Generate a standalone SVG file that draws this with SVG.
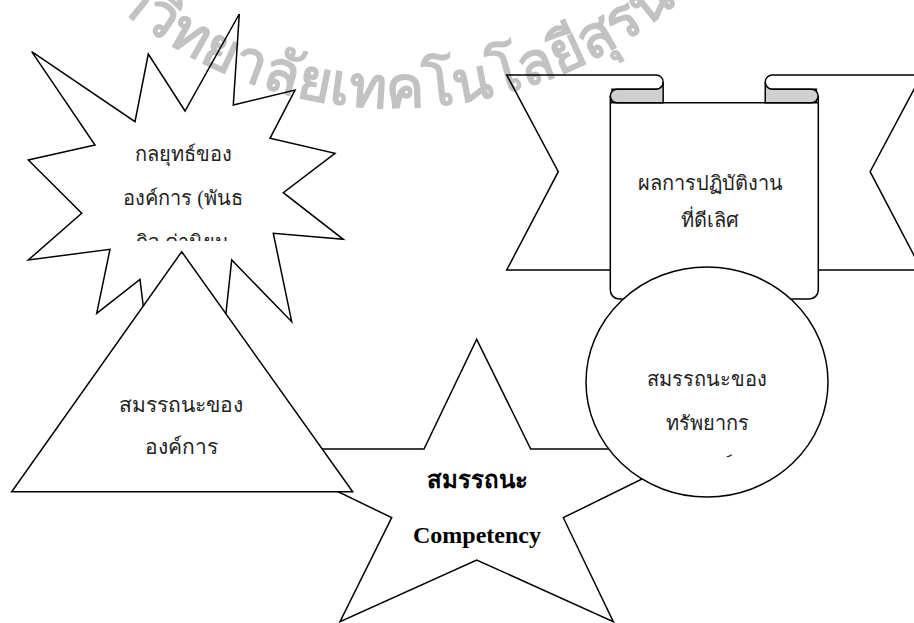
<svg xmlns="http://www.w3.org/2000/svg" width="914" height="623" viewBox="0 0 914 623">
<style>
.sh{fill:#fff;stroke:#000;stroke-width:1.5;stroke-linejoin:miter}
.fold{fill:#d0d0d0;stroke:#000;stroke-width:1.5}
.t{font-family:"Liberation Serif","Noto Sans",serif;font-size:20px;fill:#222;text-anchor:middle}
.tb{font-family:"Liberation Serif","Noto Sans",serif;font-size:24px;font-weight:bold;fill:#000;text-anchor:middle}
.wm{font-family:"Noto Sans","DejaVu Sans",sans-serif;font-size:58px;font-weight:bold;fill:#000;fill-opacity:0.24}
</style>
<defs>
<path id="wmarc" d="M -35,-322 A 430 430 0 0 0 825,-322"/>
<clipPath id="clipBurst"><rect x="100" y="130" width="170" height="111"/></clipPath>
<clipPath id="clipCircle"><rect x="620" y="340" width="180" height="117"/></clipPath>
</defs>
<g id="strategy">
<polygon class="sh" points="31.7,51.7 135,121.7 148.3,54 185,111 239.3,14 233.3,105 295,90 270,138.3 335,153.3 283.3,192.7 343.3,239.3 273.3,233.3 291.7,321.7 231.7,260 222,350 185,300 148,345 140,279.3 96.7,313.3 110,249.3 28.3,260 81.7,213.3 28.3,160 95,145"/>
<g clip-path="url(#clipBurst)">
<text class="t" x="183" y="161">กลยุทธ์ของ</text>
<text class="t" x="183" y="205">องค์การ (พันธ</text>
<text class="t" x="182" y="249">กิจ ค่านิยม</text>
</g>
</g>
<g id="competency">
<polygon class="sh" points="476.7,339.3 530.7,449 703,449 563.3,517.7 613.3,621.7 476.7,560 340,621.7 391.7,517.7 250,449 424,449"/>
<text class="tb" x="477" y="488">สมรรถนะ</text>
<text class="tb" x="477" y="543">Competency</text>
</g>
<g id="org-competency">
<polygon class="sh" points="181.7,251.7 352.7,491.7 11.7,491.7"/>
<text class="t" x="181" y="411.5" style="font-size:21px">สมรรถนะของ</text>
<text class="t" x="181" y="453.5" style="font-size:21px">องค์การ</text>
</g>
<g id="performance">
<path class="sh" d="M656,75 L506.7,75 L558.3,171.7 L506.7,270 L612,270 L612,89.3 L656,89.3 A7.15,7.15 0 0 0 656,75 Z"/>
<path class="sh" d="M772.4,75 L921.7,75 L870.1,171.7 L921.7,270 L816.4,270 L816.4,89.3 L772.4,89.3 A7.15,7.15 0 0 1 772.4,75 Z"/>
<path class="sh" d="M610.3,96 L610.3,290 A9,9 0 0 0 619.3,299 L809.3,299 A9,9 0 0 0 818.3,290 L818.3,96 L818.3,102.7 L610.3,102.7 Z"/>
<path class="fold" d="M617,89.3 L656,89.3 A7.15,7.15 0 0 0 663.15,82.15 L663.15,102.7 L617,102.7 A6.7,6.7 0 0 1 617,89.3 Z"/>
<path class="fold" d="M811.4,89.3 L772.4,89.3 A7.15,7.15 0 0 1 765.25,82.15 L765.25,102.7 L811.4,102.7 A6.7,6.7 0 0 0 811.4,89.3 Z"/>
<text class="t" x="710" y="189.5">ผลการปฏิบัติงาน</text>
<text class="t" x="710" y="227">ที่ดีเลิศ</text>
</g>
<g id="human-competency">
<ellipse class="sh" cx="707" cy="382" rx="121" ry="115"/>
<g clip-path="url(#clipCircle)">
<text class="t" x="707" y="385.5">สมรรถนะของ</text>
<text class="t" x="707" y="429.5">ทรัพยากร</text>
<text class="t" x="707" y="472">มนุษย์</text>
</g>
</g>
<g id="connectors"></g>
<text class="wm"><textPath href="#wmarc" startOffset="50%" text-anchor="middle">าวิทยาลัยเทคโนโลยีสุรน</textPath></text>
</svg>
